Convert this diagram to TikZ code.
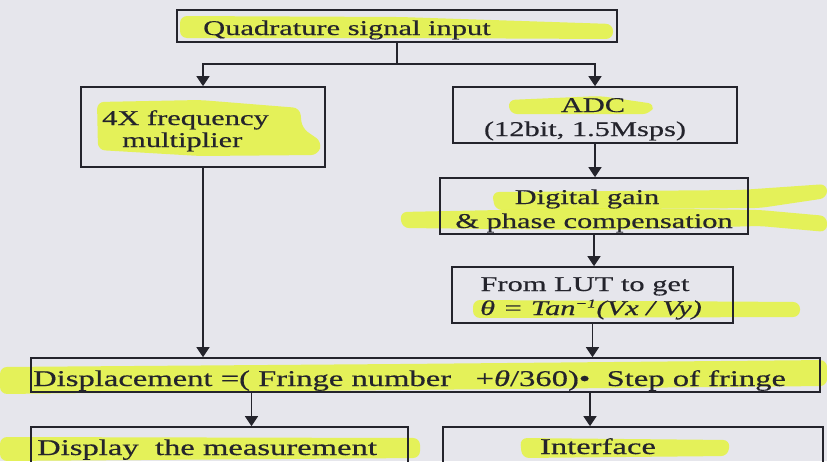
\documentclass[tikz,border=0pt]{standalone}
\usepackage{fontspec}
\setmainfont[FakeStretch=1.45,FakeBold=0.5]{Liberation Serif}
\usetikzlibrary{arrows.meta}
\definecolor{paper}{HTML}{E6E6EC}
\definecolor{ink}{HTML}{24242C}
\definecolor{hl}{HTML}{E4F440}
\begin{document}
\begin{tikzpicture}[x=1pt,y=-1pt,
  box/.style={draw=ink,line width=1.7pt,rectangle,inner sep=0pt},
  arr/.style={draw=ink,line width=1.7pt,-{Triangle[width=13pt,length=10pt]}},
  ln/.style={draw=ink,line width=1.7pt},
  txt/.style={text=ink,inner sep=0pt,font=\fontsize{21}{25}\selectfont},
  txtb/.style={text=ink,inner sep=0pt,font=\fontsize{22.5}{26}\selectfont},
  hlite/.style={fill=hl,draw=none,opacity=0.85,rounded corners=7pt}]
\useasboundingbox (0,0) rectangle (827,461);
\clip (0,0) rectangle (827,461);
\fill[paper] (0,0) rectangle (827,461);

% highlighter strokes
\fill[hlite] (180,16) -- (400,17) -- (613,24) -- (613,39) -- (400,38) -- (180,38) -- cycle;
\fill[hlite] (97,102) -- (200,100) -- (300,108) -- (302,128) -- (322,142) -- (318,155) -- (200,156) -- (98,150) -- cycle;
\fill[hlite] (508,100) -- (600,96) -- (655,104) -- (650,114) -- (510,114) -- cycle;
\fill[hlite] (492,192) -- (740,190) -- (827,184) -- (827,198) -- (760,208) -- (495,210) -- cycle;
\fill[hlite] (400,212) -- (600,208) -- (760,210) -- (827,216) -- (827,232) -- (760,226) -- (600,230) -- (402,228) -- cycle;
\fill[hlite] (473,300) -- (800,302) -- (800,317) -- (473,318) -- cycle;
\fill[hlite] (0,367) -- (400,364) -- (827,360) -- (827,386) -- (400,390) -- (0,394) -- cycle;
\fill[hlite] (0,437) -- (420,438) -- (420,458) -- (0,461) -- cycle;
\fill[hlite] (520,438) -- (730,440) -- (728,456) -- (522,458) -- cycle;

% boxes
\node[box,minimum width=440pt,minimum height=32pt] (q) at (397,26) {};
\node[box,minimum width=244pt,minimum height=80pt] (mul) at (203,127) {};
\node[box,minimum width=284pt,minimum height=56pt] (adc) at (595,115) {};
\node[box,minimum width=308pt,minimum height=56pt] (dig) at (594,206) {};
\node[box,minimum width=281pt,minimum height=56pt] (lut) at (592.5,295) {};
\node[box,minimum width=789pt,minimum height=34pt] (disp) at (425.5,375) {};
\node[box,minimum width=377pt,minimum height=48pt] (show) at (219.5,451) {};
\node[box,minimum width=380pt,minimum height=48pt] (intf) at (633,451) {};

% texts
\node[txt,anchor=base west] (tq) at (203,35) {Quadrature signal input};
\node[txt,anchor=base west] (tm1) at (102,125) {4X frequency};
\node[txt,anchor=base west] (tm2) at (122,147) {multiplier};
\node[txt,anchor=base] (ta1) at (593,112) {ADC};
\node[txt,anchor=base] (ta2) at (585,136) {(12bit, 1.5Msps)};
\node[txt,anchor=base] (td1) at (587,204) {Digital gain};
\node[txt,anchor=base] (td2) at (594,228) {\& phase compensation};
\node[txt,anchor=base] (tl1) at (585,291) {From LUT to get};
\node[txt,anchor=base] (tl2) at (591,315) {\itshape θ = Tan\textsuperscript{\fontsize{12}{12}\selectfont −1}(Vx / Vy)};
\node[txtb,anchor=base west] (tdisp) at (33,386) {Displacement =( Fringe number\ \ \ +{\itshape θ}/360)•\ \ Step of fringe};
\node[txtb,anchor=base west] (tshow) at (37,455) {Display\ \ the measurement};
\node[txtb,anchor=base] (tint) at (598,454) {Interface};

% connectors
\coordinate (split) at (q.south |- 0,64);
\draw[ln] (q.south) -- (split);
\draw[arr] (split) -| (mul.north);
\draw[arr] (split) -| (adc.north);
\draw[arr] (adc.south) -- (adc.south |- dig.north);
\draw[arr] (dig.south) -- (dig.south |- lut.north);
\draw[arr] (lut.south) -- (lut.south |- disp.north);
\draw[arr] (mul.south) -- (mul.south |- disp.north);
\coordinate (sA) at ([xshift=32pt]show.north);
\coordinate (iA) at ([xshift=-43pt]intf.north);
\draw[arr] (sA |- disp.south) -- (sA);
\draw[arr] (iA |- disp.south) -- (iA);
\end{tikzpicture}
\end{document}
